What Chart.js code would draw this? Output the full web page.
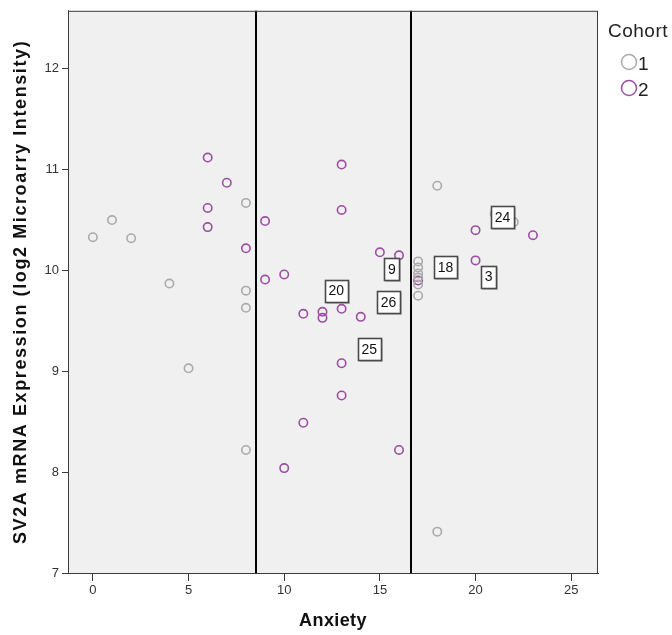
<!DOCTYPE html>
<html>
<head>
<meta charset="utf-8">
<script src="https://cdn.jsdelivr.net/npm/chart.js@4/dist/chart.umd.min.js"></script>
<style>
  html, body { margin: 0; padding: 0; background: #ffffff; }
  #wrap { width: 672px; height: 635px; }
</style>
</head>
<body>
<div id="wrap"><canvas id="c" width="672" height="635"></canvas></div>
<script>
// Anxiety score vs. SV2A expression, split by cohort
const cohort1X = [0, 1, 2, 4, 5, 8, 8, 8, 8, 17, 17, 17, 17, 17, 17, 18, 18, 21, 22];
const cohort1Y = [10.33, 10.50, 10.32, 9.87, 9.03, 10.67, 9.80, 9.63, 8.22, 10.09, 10.03, 9.97, 9.93, 9.86, 9.75, 10.84, 7.41, 10.56, 10.48];

const cohort2X = [6, 6, 6, 7, 8, 9, 9, 10, 10, 11, 11, 12, 12, 13, 13, 13, 13, 13, 14, 15, 16, 16, 17, 20, 20, 23];
const cohort2Y = [11.12, 10.62, 10.43, 10.87, 10.22, 10.49, 9.91, 9.96, 8.04, 9.57, 8.49, 9.59, 9.53, 11.05, 10.60, 9.62, 9.08, 8.76, 9.54, 10.18, 10.15, 8.22, 9.90, 10.40, 10.10, 10.35];

// Case ID labels and where they sit (data units)
const caseIds = ['20', '9', '26', '25', '18', '3', '24'];
const caseX = [12.72, 15.63, 15.45, 14.45, 18.43, 20.68, 21.41];
const caseY = [9.80, 10.01, 9.69, 9.22, 10.03, 9.94, 10.53];

// Cut-points on the Anxiety axis
const cutPoints = [8.53, 16.65];

const xTicks = [0, 5, 10, 15, 20, 25];
const yTicks = [7, 8, 9, 10, 11, 12];

const cohortNames = ['1', '2'];
const cohortColors = ['#aaaaaa', '#9b4ea3'];
const legendTitle = 'Cohort';
const xTitle = 'Anxiety';
const yTitle = 'SV2A mRNA Expression (log2 Microarry Intensity)';

const FONT = '"Liberation Sans", Arial, sans-serif';

function pts(xs, ys) { return xs.map((x, i) => ({ x: x, y: ys[i] })); }

function spaced(ctx, px) {
  if ('letterSpacing' in ctx) ctx.letterSpacing = px + 'px';
}

const framePlugin = {
  id: 'frame',
  beforeDatasetsDraw(chart) {
    const { ctx, chartArea: a } = chart;
    ctx.save();
    ctx.fillStyle = '#f0f0f0';
    ctx.fillRect(a.left, a.top, a.right - a.left, a.bottom - a.top);
    ctx.restore();
  },
  afterDatasetsDraw(chart) {
    const { ctx, chartArea: a, scales } = chart;
    ctx.save();
    // cut-point reference lines
    ctx.strokeStyle = '#000000';
    ctx.lineWidth = 2;
    cutPoints.forEach(v => {
      const px = Math.round(scales.x.getPixelForValue(v));
      ctx.beginPath();
      ctx.moveTo(px, a.top);
      ctx.lineTo(px, a.bottom);
      ctx.stroke();
    });
    // case ID boxes
    ctx.font = '14px ' + FONT;
    ctx.textAlign = 'center';
    ctx.textBaseline = 'middle';
    caseIds.forEach((id, i) => {
      const cx = scales.x.getPixelForValue(caseX[i]);
      const cy = scales.y.getPixelForValue(caseY[i]);
      const w = Math.ceil(ctx.measureText(id).width) + 7;
      const h = 22;
      const l = Math.round(cx - w / 2) + 0.5, t = Math.round(cy - h / 2) + 0.5;
      ctx.fillStyle = 'rgba(0,0,0,0.2)';
      ctx.fillRect(l + 1, t + 1, w + 0.5, h + 0.5);
      ctx.fillStyle = '#ffffff';
      ctx.fillRect(l, t, w, h);
      ctx.strokeStyle = '#4a4a4a';
      ctx.lineWidth = 1.6;
      ctx.strokeRect(l, t, w, h);
      ctx.fillStyle = '#111111';
      ctx.fillText(id, cx, cy + 1);
    });
    // frame
    ctx.strokeStyle = '#3c3c3c';
    ctx.lineWidth = 1;
    ctx.strokeRect(a.left + 0.5, a.top + 0.5, a.right - a.left - 1, a.bottom - a.top);
    ctx.restore();
  },
  afterDraw(chart) {
    const { ctx, chartArea: a } = chart;
    ctx.save();
    // axis titles
    ctx.fillStyle = '#111111';
    ctx.textAlign = 'center';
    ctx.textBaseline = 'middle';
    ctx.font = 'bold 18px ' + FONT;
    spaced(ctx, 0.4);
    ctx.fillText(xTitle, (a.left + a.right) / 2, 621);
    ctx.save();
    ctx.translate(21, (a.top + a.bottom) / 2);
    ctx.rotate(-Math.PI / 2);
    spaced(ctx, 1.6);
    ctx.fillText(yTitle, 0, 0);
    ctx.restore();
    // legend
    spaced(ctx, 0.5);
    ctx.fillStyle = '#222222';
    ctx.font = '19px ' + FONT;
    ctx.textAlign = 'left';
    ctx.fillText(legendTitle, 608, 32);
    cohortNames.forEach((name, i) => {
      const cy = 62 + i * 26;
      ctx.beginPath();
      ctx.arc(629, cy, 7.5, 0, Math.PI * 2);
      ctx.strokeStyle = cohortColors[i];
      ctx.lineWidth = 1.5;
      ctx.stroke();
      ctx.fillStyle = '#222222';
      ctx.fillText(name, 638, cy + 3);
    });
    ctx.restore();
  }
};

new Chart(document.getElementById('c'), {
  type: 'scatter',
  data: {
    datasets: [
      { label: cohortNames[0], data: pts(cohort1X, cohort1Y), borderColor: cohortColors[0], backgroundColor: 'rgba(0,0,0,0)', pointRadius: 4.2, pointBorderWidth: 1.6 },
      { label: cohortNames[1], data: pts(cohort2X, cohort2Y), borderColor: cohortColors[1], backgroundColor: 'rgba(0,0,0,0)', pointRadius: 4.2, pointBorderWidth: 1.6 }
    ]
  },
  options: {
    responsive: false,
    animation: false,
    layout: { padding: { top: 10, right: 74, left: 0, bottom: 0 } },
    plugins: { legend: { display: false }, tooltip: { enabled: false } },
    scales: {
      x: {
        type: 'linear', min: -1.3, max: 26.4,
        afterBuildTicks: s => { s.ticks = xTicks.map(v => ({ value: v })); },
        afterFit: s => { s.height = 62; },
        grid: { drawOnChartArea: false, drawTicks: true, tickLength: 8, color: '#3c3c3c', lineWidth: 1 },
        border: { display: true, color: '#3c3c3c', width: 1 },
        ticks: { color: '#333333', font: { family: FONT, size: 13 }, padding: 2, maxRotation: 0 },
        title: { display: false }
      },
      y: {
        type: 'linear', min: 7, max: 12.575,
        afterBuildTicks: s => { s.ticks = yTicks.map(v => ({ value: v })); },
        afterFit: s => { s.width = 68; },
        grid: { drawOnChartArea: false, drawTicks: true, tickLength: 6, color: '#3c3c3c', lineWidth: 1 },
        border: { display: true, color: '#3c3c3c', width: 1 },
        ticks: { color: '#333333', font: { family: FONT, size: 13 }, padding: 3 },
        title: { display: false }
      }
    }
  },
  plugins: [framePlugin]
});
</script>
</body>
</html>
